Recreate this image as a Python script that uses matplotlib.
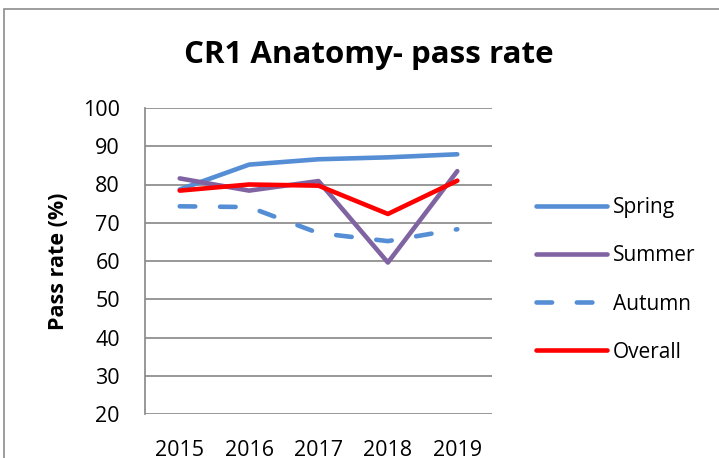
import matplotlib
matplotlib.use("Agg")
import matplotlib.pyplot as plt
from matplotlib.patches import Rectangle

years = ["2015", "2016", "2017", "2018", "2019"]
spring = [78.7, 85.2, 86.6, 87.1, 87.9]
summer = [81.6, 78.4, 80.9, 59.6, 83.5]
autumn = [74.3, 74.1, 67.3, 65.2, 68.3]
overall = [78.4, 80.0, 79.7, 72.3, 81.0]

blue = "#558ED5"
purple = "#8064A2"
red = "#FF0000"

plt.rcParams['font.family'] = ['Open Sans', 'DejaVu Sans']

fig = plt.figure(figsize=[7.19, 4.58], dpi=100)
# outer chart frame (cut off at right and bottom)
fig.patches.append(Rectangle((4 / 719, -0.1), 1.2, 1 - 9 / 458 + 0.1,
                             transform=fig.transFigure, fill=False,
                             edgecolor="#8c8c8c", linewidth=1.2))

ax = fig.add_axes([145 / 719, 1 - 414 / 458, 347 / 719, 306 / 458])
x = range(len(years))
lw = 3.3
ax.plot(x, spring, color=blue, lw=lw, label="Spring", solid_capstyle="round")
ax.plot(x, summer, color=purple, lw=lw, label="Summer", solid_capstyle="round")
ax.plot(x, autumn, color=blue, lw=lw, label="Autumn", dashes=(3.4, 5.4),
        dash_capstyle="round")
ax.plot(x, overall, color=red, lw=lw, label="Overall", solid_capstyle="round")

ax.set_xlim(-0.5, 4.5)
ax.set_ylim(20, 100)
ax.set_yticks(range(20, 101, 10))
ax.set_xticks(list(x))
ax.set_xticklabels(years)
ax.tick_params(length=0, labelsize=15.5)
ax.tick_params(axis="y", pad=18)
ax.tick_params(axis="x", pad=19)
ax.grid(axis="y", color="#868686", lw=1.2)
ax.set_axisbelow(True)
for s in ["top", "right", "bottom"]:
    ax.spines[s].set_visible(False)
ax.spines["left"].set_color("#868686")
ax.spines["left"].set_linewidth(1.2)

ax.set_ylabel("Pass rate (%)", fontsize=15.5, fontweight="bold", labelpad=10)
fig.text(369 / 719, 1 - 55 / 458, "CR1 Anatomy- pass rate", ha="center",
         va="center", fontsize=22.5, fontweight="bold")

leg = ax.legend(loc="center left", bbox_to_anchor=(517 / 719, 1 - 280 / 458),
                bbox_transform=fig.transFigure, frameon=False, fontsize=15,
                handlelength=3.4, handletextpad=0.3, labelspacing=1.3)

fig.savefig("out.png", dpi=100)
